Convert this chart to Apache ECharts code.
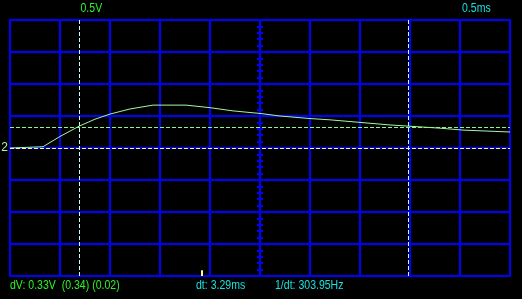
<!DOCTYPE html>
<html>
<head>
<meta charset="utf-8">
<script src="https://cdn.jsdelivr.net/npm/echarts@6/dist/echarts.min.js"></script>
<style>
html,body{margin:0;padding:0;background:#000;}
#c{width:522px;height:299px;}
</style>
</head>
<body>
<div id="c"></div>
<script>
// trace data (time in ms, voltage in V)
const timeMs = [0, 0.33, 0.50, 0.69, 0.85, 1.00, 1.20, 1.43, 1.76, 2.00, 2.23, 2.50, 2.70, 3.00, 3.20, 3.50, 3.80, 4.00, 4.30, 4.53, 5.00];
const volts  = [0, 0.02, 0.18, 0.34, 0.45, 0.53, 0.61, 0.67, 0.67, 0.63, 0.58, 0.54, 0.50, 0.46, 0.44, 0.40, 0.36, 0.34, 0.31, 0.28, 0.25];
// cursors
const timeCursors = [0.69, 3.98];
const voltCursors = [0, 0.33];
const triggerTime = [1.915];
const channelLabel = ['2'];
// scale labels
const voltScale = ['0.5V'];
const timeScale = ['0.5ms'];
const readouts = ['dV: 0.33V  (0.34) (0.02)', 'dt: 3.29ms', '1/dt: 303.95Hz'];

const BLUE = '#0000ff';
const FONT = '"Liberation Sans",Arial,sans-serif';
const GREEN = '#2af52a';
const CYAN = '#18e0e0';
const SX = 0.81;

const chart = echarts.init(document.getElementById('c'), null, {renderer: 'canvas'});
const hidden = {show: false};
const noLine = {show: false, onZero: false};
function centerY(inside) {
  return {
    type: 'value', min: -2, max: 2, interval: 0.1, position: 'left', offset: -250,
    axisLine: {show: true, onZero: false, lineStyle: {color: BLUE, width: 2}},
    axisTick: {show: true, inside: inside, length: 3, lineStyle: {color: BLUE, width: 2}},
    axisLabel: hidden, splitLine: hidden
  };
}
function centerSingle(pos, top, bottom) {
  return {
    type: 'value', min: 0, max: 5, interval: 0.1, orient: 'horizontal', position: pos,
    left: 10, width: 500, top: top, bottom: bottom,
    axisLine: {show: true, lineStyle: {color: BLUE, width: 2}},
    axisTick: {show: true, length: 3, lineStyle: {color: BLUE, width: 2}},
    axisLabel: hidden, splitLine: hidden, splitArea: hidden, axisPointer: {show: false}
  };
}
function txt(x, y, s, color) {
  return {type: 'text', x: x, y: y, scaleX: SX, scaleY: 1,
          style: {text: s, fill: color, font: '13px ' + FONT}};
}
const option = {
  backgroundColor: '#000',
  animation: false,
  grid: [
    {left: 10, top: 20, width: 500, height: 256, show: true, borderColor: BLUE, borderWidth: 2, backgroundColor: 'transparent'}
  ],
  xAxis: [
    {type: 'value', min: 0, max: 5, interval: 0.5, axisLine: noLine, axisTick: hidden, axisLabel: hidden,
     splitLine: {show: true, lineStyle: {color: BLUE, width: 2}}}
  ],
  yAxis: [
    {type: 'value', min: -2, max: 2, interval: 0.5, axisLine: noLine, axisTick: hidden, axisLabel: hidden,
     splitLine: {show: true, lineStyle: {color: BLUE, width: 2}}},
    centerY(false), centerY(true)
  ],
  singleAxis: [
    centerSingle('bottom', 20, 151),
    centerSingle('top', 148, 23)
  ],
  series: [{
    type: 'line',
    xAxisIndex: 0, yAxisIndex: 0,
    data: timeMs.map((t, i) => [t, volts[i]]),
    showSymbol: false,
    lineStyle: {color: '#a4f8a4', width: 1},
    z: 3,
    markLine: {
      silent: true, symbol: 'none', animation: false,
      label: {show: false},
      data: [
        {xAxis: timeCursors[0], lineStyle: {color: '#c0ffff', type: [4, 2], width: 1}},
        {xAxis: timeCursors[1], lineStyle: {color: '#c0ffff', type: [4, 2], width: 1}},
        {yAxis: voltCursors[0], lineStyle: {color: '#f0f4c8', type: [4, 2], width: 1},
         label: {show: true, position: 'start', distance: 2, formatter: channelLabel[0], color: '#a4f8a4', fontFamily: FONT, fontSize: 12}},
        {yAxis: voltCursors[1], lineStyle: {color: '#88f888', type: [4, 2], width: 1}},
        [{coord: [triggerTime[0], -2], lineStyle: {color: '#ffff88', type: 'solid', width: 2}}, {coord: [triggerTime[0], -1.91]}]
      ]
    }
  }],
  graphic: [
    txt(80.5, 2, voltScale[0], GREEN),
    txt(462, 2, timeScale[0], CYAN),
    txt(10, 279, readouts[0], GREEN),
    txt(196, 279, readouts[1], CYAN),
    txt(275, 279, readouts[2], CYAN)
  ]
};
chart.setOption(option);
</script>
</body>
</html>
